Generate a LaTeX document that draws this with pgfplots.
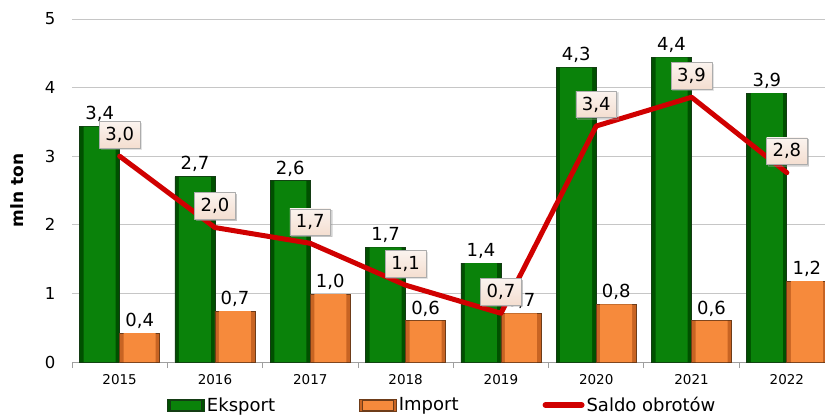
\documentclass[border=0pt]{standalone}
\usepackage{pgfplots}
\pgfplotsset{compat=1.18}
\usepackage{fontspec}
\setmainfont{DejaVu Sans}
\usetikzlibrary{shadows}
\definecolor{gmain}{RGB}{10,130,10}
\definecolor{gdark}{RGB}{0,80,0}
\definecolor{gline}{RGB}{20,60,20}
\definecolor{omain}{RGB}{246,138,60}
\definecolor{odark}{RGB}{200,100,35}
\definecolor{oline}{RGB}{110,60,25}
\definecolor{sred}{RGB}{208,0,0}
\definecolor{lblfill}{RGB}{244,222,208}
\pgfplotsset{
  gleg/.style={legend image code/.code={\path[fill=gdark, draw=gline, line width=0.8bp] (0bp,-6bp) rectangle (37bp,6bp); \path[fill=gmain] (3bp,-5bp) rectangle (34bp,5bp);}},
  oleg/.style={legend image code/.code={\path[fill=odark, draw=oline, line width=0.8bp] (0bp,-6bp) rectangle (37bp,6bp); \path[fill=omain] (3bp,-5bp) rectangle (34bp,5bp);}},
  lineleg/.style={legend image code/.code={\draw[sred, line width=6bp, line cap=round] (2bp,0bp) -- (38bp,0bp);}},
  valnodes/.style={nodes near coords={\pgfmathprintnumber[fixed,fixed zerofill,precision=1,use comma,assume math mode=true]{\pgfplotspointmeta}}},
}
\pgfplotstableread{
x eksport import saldo
0 3.43 0.42 3.00
1 2.70 0.74 1.96
2 2.64 0.99 1.73
3 1.67 0.60 1.12
4 1.44 0.71 0.71
5 4.29 0.84 3.44
6 4.44 0.60 3.86
7 3.92 1.18 2.76
}\data
\begin{document}
\begin{tikzpicture}
\path[use as bounding box] (-72bp,-53bp) rectangle (753bp,362bp);
\begin{axis}[
  scale only axis, width=753bp, height=343bp,
  at={(0,0)}, anchor=south west,
  xmin=-0.5, xmax=7.4, ymin=0, ymax=5,
  xtick={0,...,7}, xticklabels={2015,2016,2017,2018,2019,2020,2021,2022},
  minor xtick={-0.5,0.5,...,7.5},
  ytick={0,...,5},
  /pgf/number format/assume math mode=true,
  ymajorgrids, major grid style={draw=gray!45, line width=0.8bp},
  axis x line*=bottom, axis y line*=left,
  y axis line style={draw=none},
  x axis line style={draw=gray!75, line width=0.8bp, -},
  major x tick style={draw=none},
  minor x tick style={draw=gray!75, line width=0.8bp},
  ytick style={draw=none},
  tick align=outside, major tick length=0pt, minor tick length=6bp,
  xticklabel style={font=\fontsize{13.5bp}{15bp}\selectfont, yshift=-9bp},
  yticklabel style={font=\fontsize{16.5bp}{18bp}\selectfont, xshift=-13bp},
  ylabel={mln ton},
  every axis y label/.style={at={(axis description cs:0,0.5)}, rotate=90, anchor=center, yshift=55bp, font=\bfseries\fontsize{17bp}{19bp}\selectfont},
  legend columns=3,
  legend style={draw=none, fill=none, at={(0,0)}, anchor=west, xshift=92bp, yshift=-43bp,
    font=\fontsize{18bp}{20bp}\selectfont,
    /tikz/every even column/.append style={column sep=82bp},
    /tikz/every odd column/.append style={column sep=0bp},
    /tikz/column 4/.append style={column sep=75bp}},
]
\addplot[ybar, bar width=40bp, bar shift=-20bp, fill=gdark, draw=gline, line width=0.8bp,
  valnodes,
  every node near coord/.append style={text=black, font=\fontsize{18bp}{20bp}\selectfont, xshift=-20bp, yshift=1bp},
  gleg]
  table[x=x, y=eksport]{\data};
\addlegendentry{Eksport}
\addplot[forget plot, ybar, bar width=32bp, bar shift=-20bp, fill=gmain, draw=none]
  table[x=x, y=eksport]{\data};
\addplot[ybar, bar width=40bp, bar shift=20bp, fill=odark, draw=oline, line width=0.8bp,
  valnodes,
  every node near coord/.append style={text=black, font=\fontsize{18bp}{20bp}\selectfont, xshift=20bp, yshift=1bp},
  oleg]
  table[x=x, y=import]{\data};
\addlegendentry{Import}
\addplot[forget plot, ybar, bar width=32bp, bar shift=20bp, fill=omain, draw=none]
  table[x=x, y=import]{\data};
\addplot[sharp plot, draw=sred, line width=5bp, line join=round, line cap=round, mark=none,
  valnodes,
  every node near coord/.append style={anchor=south, yshift=8bp, text=black, font=\fontsize{18bp}{20bp}\selectfont,
    draw=gray!65, line width=0.6bp, top color=lblfill!35!white, bottom color=lblfill,
    inner xsep=6bp, inner ysep=5.5bp,
    drop shadow={opacity=0.35, shadow xshift=1.5bp, shadow yshift=-1.5bp}},
  lineleg]
  table[x=x, y=saldo]{\data};
\addlegendentry{Saldo obrotów}
\end{axis}
\end{tikzpicture}
\end{document}
